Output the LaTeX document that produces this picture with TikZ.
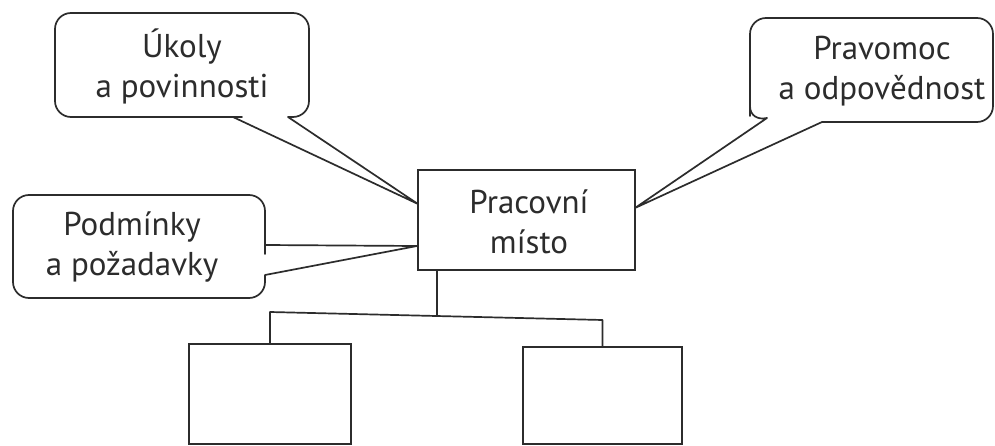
\documentclass[tikz,border=0pt]{standalone}
\usepackage{fontspec}
\setmainfont{PT Sans}
\definecolor{ink}{HTML}{2C2C2C}
\begin{document}
\begin{tikzpicture}[x=1pt, y=-1pt,
  outline/.style={draw=ink, line width=1.7pt, line join=round},
  lbl/.style={text=ink, align=center, inner sep=0pt,
    font=\fontsize{33}{40}\selectfont},
  plainbox/.style={draw=ink, line width=1.7pt, inner sep=0pt}]
\useasboundingbox[fill=white] (0,0) rectangle (995,446);

% central box
\node[plainbox, minimum width=217pt, minimum height=100pt] (prac) at (526.5,220) {};
\node[lbl] (pract) at (529,222) {Pracovní\\místo};

% tips of the callouts, on the central box
\coordinate (tipA) at (418,204);
\coordinate (tipB) at (417,246);
\coordinate (tipC) at (635,208);

% callout: Úkoly a povinnosti
\draw[outline] (288,117) -- (294,117) [rounded corners=16pt] -- (309,117) -- (309,13)
  -- (55,13) -- (55,117) -- (226,117) [sharp corners] -- (233,117) -- (tipA) -- cycle;
\node[lbl] (ukoly) at (182,66) {Úkoly\\a povinnosti};

% callout: Podmínky a požadavky
\draw[outline] (265,275) -- (265,282) [rounded corners=16pt] -- (265,298) -- (13,298)
  -- (13,195) -- (265,195) -- (265,238) [sharp corners] -- (265,245) -- (tipB) -- cycle;
\node[lbl] (podm) at (132,247) {Podmínky\\a požadavky};

% callout: Pravomoc a odpovědnost
\draw[outline] (822,122) -- (828,122) [rounded corners=16pt] -- (993,122) -- (993,18)
  -- (750,18) -- (750,100) [sharp corners] -- (750,106)
  .. controls (750,116) and (758,120) .. (767,118) -- (tipC) -- cycle;
\node[lbl] (prav) at (882,71) {Pravomoc\\a odpovědnost};

% lower boxes
\node[plainbox, minimum width=162pt, minimum height=100pt] (lbox) at (270,394) {};
\node[plainbox, minimum width=159pt, minimum height=97pt] (rbox) at (602.5,395.5) {};

% tree connectors
\coordinate (jn) at (437,316);
\coordinate (hl) at (270,312);
\coordinate (hr) at (602.5,320);
\draw[outline] (prac.south -| jn) -- (jn);
\draw[outline] (lbox.north) -- (hl) -- (hr) -- (rbox.north);
\end{tikzpicture}
\end{document}
